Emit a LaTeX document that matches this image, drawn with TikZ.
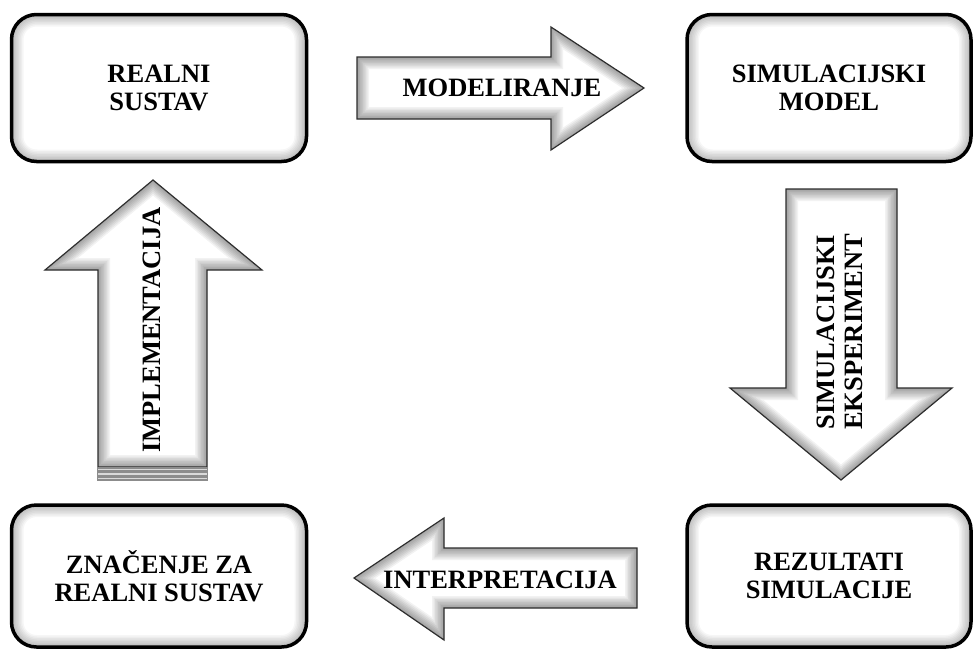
\documentclass[tikz,border=0pt]{standalone}
\usepackage{fontspec}
\setmainfont{Liberation Serif}
\usepackage{tikz}
\definecolor{white}{rgb}{1.0, 1.0, 1.0}
\definecolor{black}{rgb}{0.0, 0.0, 0.0}
\definecolor{rimgray}{RGB}{45, 45, 45}
\pgfdeclarelayer{edgelayer}
\pgfdeclarelayer{nodelayer}
\pgfsetlayers{edgelayer,nodelayer,main}
\tikzstyle{box}=[draw=black, line width=3.5pt, rounded corners=25pt, fill=white, align=center,
  font=\fontsize{26.5}{28}\selectfont\bfseries,
  path picture={\foreach \w in {3,6,...,24} \draw[line width=\w pt, black, opacity=0.035, rounded corners=25pt]
    (path picture bounding box.south west) rectangle (path picture bounding box.north east);}]
\tikzstyle{arrowtext}=[align=center, font=\fontsize{26.5}{28}\selectfont\bfseries]
\tikzstyle{rim}=[draw=rimgray, line width=1.2pt, line join=miter]
\newcommand{\blockarrow}[1]{%
  \fill[white] #1;
  \begin{scope}
    \clip #1;
    \foreach \w in {3,6,...,24} \draw[line width=\w pt, black, opacity=0.05] #1;
  \end{scope}
  \draw[rim] #1;}

\begin{document}
\begin{tikzpicture}[x=1pt, y=-1pt]
        \useasboundingbox (0, 0) rectangle (974, 649);
        \begin{pgfonlayer}{nodelayer}
            \node [style = box, minimum width=295pt, minimum height=147pt] (real) at (159, 88) {REALNI\\SUSTAV};
            \node [style = box, minimum width=284pt, minimum height=147pt] (model) at (829, 88) {SIMULACIJSKI\\MODEL};
            \node [style = box, minimum width=284pt, minimum height=142pt] (results) at (829, 576) {REZULTATI\\SIMULACIJE};
            \node [style = box, minimum width=295pt, minimum height=142pt] (meaning) at (159, 576) {ZNAČENJE ZA\\REALNI SUSTAV};
        \end{pgfonlayer}

        \begin{pgfonlayer}{edgelayer}
            % modeliranje
            \blockarrow{(357, 57) -- (551, 57) -- (551, 27) -- (644, 88) -- (551, 150) -- (551, 119) -- (357, 119) -- cycle}
            % simulacijski eksperiment
            \blockarrow{(786, 189) -- (897, 189) -- (897, 388) -- (952, 388) -- (841, 480) -- (730, 388) -- (786, 388) -- cycle}
            % interpretacija
            \blockarrow{(637, 548) -- (444, 548) -- (444, 518) -- (354, 578) -- (444, 640) -- (444, 608) -- (637, 608) -- cycle}
            % implementacija
            \blockarrow{(98, 467) -- (98, 270) -- (45, 270) -- (153, 180) -- (262, 270) -- (207, 270) -- (207, 467) -- cycle}
            \fill [black!45] (97.4, 467) rectangle (207.6, 481);
            \foreach \y in {469.5, 474, 478.5}
                \draw [black!15, line width=1.2pt] (98, \y) -- (207, \y);
        \end{pgfonlayer}

        \node [style = arrowtext] (modeliranje) at (502, 88) {MODELIRANJE};
        \node [style = arrowtext, rotate=90] (eksperiment) at (840, 332) {SIMULACIJSKI\\EKSPERIMENT};
        \node [style = arrowtext] (interpretacija) at (500, 580) {INTERPRETACIJA};
        \node [style = arrowtext, rotate=90] (implementacija) at (152, 330) {IMPLEMENTACIJA};
    \end{tikzpicture}
\end{document}
